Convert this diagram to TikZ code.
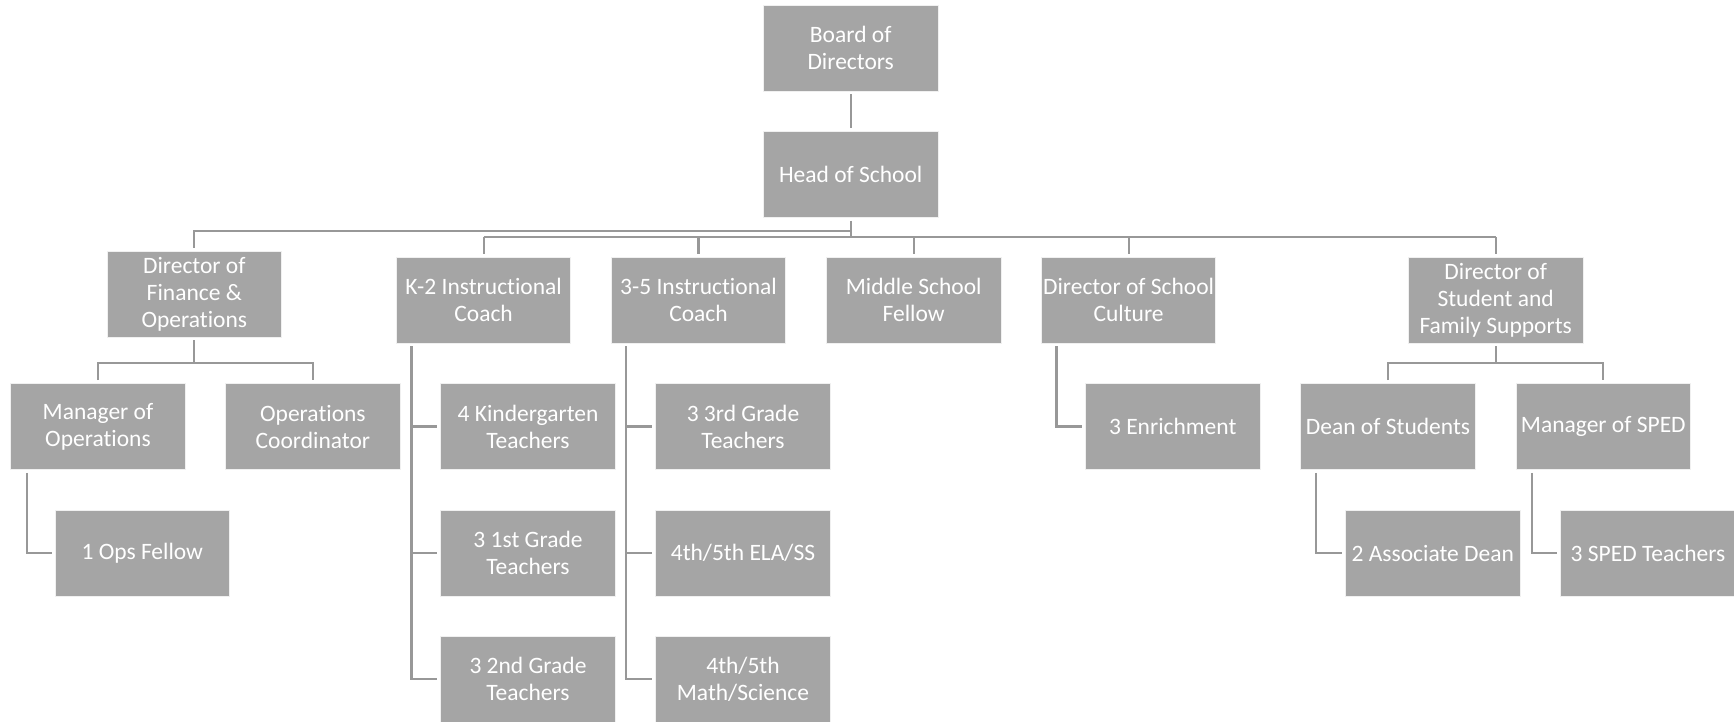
\documentclass[tikz,border=0pt]{standalone}
\usepackage{fontspec}
\setmainfont{Carlito}[Ligatures=NoCommon]
\definecolor{boxgray}{HTML}{A5A5A5}
\definecolor{linegray}{HTML}{989898}
\begin{document}
\begin{tikzpicture}[x=1pt,y=1pt,
  orgbox/.style={rectangle, fill=boxgray, draw=white!94!black, line width=0.8pt,
    minimum width=174.5pt, minimum height=86pt, inner sep=0pt, align=center,
    text=white, font=\fontsize{23.5}{27}\selectfont},
  conn/.style={draw=linegray, line width=2.2pt}]
\useasboundingbox (0,0) rectangle (1734,-721);
% level 0-1
\node[orgbox] (board) at (850.7,-48) {Board of\\Directors};
\node[orgbox] (head) at (850.7,-174.5) {Head of School};
% level 2
\node[orgbox] (fin) at (194.3,-294) {Director of\\Finance \&\\Operations};
\node[orgbox] (k2) at (483.6,-300) {K-2 Instructional\\Coach};
\node[orgbox] (t35) at (698.5,-300) {3-5 Instructional\\Coach};
\node[orgbox] (msf) at (913.7,-300) {Middle School\\Fellow};
\node[orgbox] (cult) at (1128.6,-300) {Director of School\\Culture};
\node[orgbox] (stud) at (1495.7,-300) {Director of\\Student and\\Family Supports};
% level 3
\node[orgbox] (mops) at (98,-426.5) {Manager of\\Operations};
\node[orgbox] (opsc) at (312.9,-426.5) {Operations\\Coordinator};
\node[orgbox] (kg) at (528,-426.5) {4 Kindergarten\\Teachers};
\node[orgbox] (g3) at (743,-426.5) {3 3rd Grade\\Teachers};
\node[orgbox] (enr) at (1172.7,-426.5) {3 Enrichment};
\node[orgbox] (dean) at (1388,-426.5) {Dean of Students};
\node[orgbox] (msped) at (1603.3,-426.5) {Manager of SPED};
% level 4
\node[orgbox] (opsf) at (142.3,-553) {1 Ops Fellow};
\node[orgbox] (g1) at (528,-553) {3 1st Grade\\Teachers};
\node[orgbox] (ela) at (743,-553) {4th/5th ELA/SS};
\node[orgbox] (adean) at (1432.8,-553) {2 Associate Dean};
\node[orgbox] (spedt) at (1648,-553) {3 SPED Teachers};
% level 5
\node[orgbox] (g2) at (528,-679) {3 2nd Grade\\Teachers};
\node[orgbox] (math) at (743,-679) {4th/5th\\Math/Science};
% bus coordinates
\coordinate (busA) at (0,-230.7);
\coordinate (busB) at (0,-237);
\coordinate (finbus) at (0,-363.3);
% connectors
\draw[conn] ([yshift=-3pt]board.south) -- ([yshift=3.5pt]head.north);
\draw[conn] ([yshift=-3pt]head.south) -- (head.south |- busB);
\draw[conn] (head.south |- busA) -| ([yshift=3pt]fin.north);
\draw[conn] (k2.north |- busB) -- (stud.north |- busB);
\foreach \n in {k2,t35,msf,cult,stud}
  \draw[conn] (\n.north |- busB) -- ([yshift=3pt]\n.north);
% finance subtree
\draw[conn] ([yshift=-3pt]fin.south) -- (fin.south |- finbus);
\draw[conn] ([yshift=3pt]mops.north) |- (fin.south |- finbus) -| ([yshift=3pt]opsc.north);
\draw[conn] ([xshift=16.5pt,yshift=-3pt]mops.south west) |- ([xshift=-3pt]opsf.west);
% K-2 subtree
\foreach \n in {kg,g1,g2}
  \draw[conn] ([xshift=15.5pt,yshift=-3pt]k2.south west) |- ([xshift=-3pt]\n.west);
% 3-5 subtree
\foreach \n in {g3,ela,math}
  \draw[conn] ([xshift=15.5pt,yshift=-3pt]t35.south west) |- ([xshift=-3pt]\n.west);
% culture
\draw[conn] ([xshift=15.5pt,yshift=-3pt]cult.south west) |- ([xshift=-3pt]enr.west);
% student subtree
\draw[conn] ([yshift=-3pt]stud.south) -- (stud.south |- finbus);
\draw[conn] ([yshift=3pt]dean.north) |- (stud.south |- finbus) -| ([yshift=3pt]msped.north);
\draw[conn] ([xshift=16pt,yshift=-3pt]dean.south west) |- ([xshift=-3pt]adean.west);
\draw[conn] ([xshift=16pt,yshift=-3pt]msped.south west) |- ([xshift=-3pt]spedt.west);
\end{tikzpicture}
\end{document}
